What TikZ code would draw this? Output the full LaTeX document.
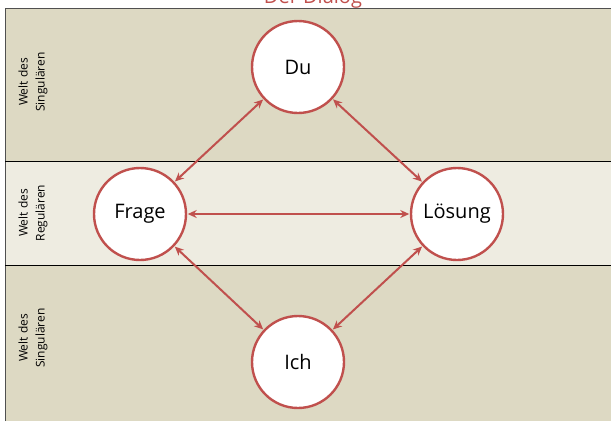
\documentclass[tikz,border=0pt]{standalone}
\usepackage{fontspec}
\setmainfont{Open Sans}
\usetikzlibrary{arrows.meta}
\definecolor{bandDark}{RGB}{221,217,195}
\definecolor{bandLight}{RGB}{238,236,225}
\definecolor{accent}{RGB}{192,80,77}
\definecolor{edge}{RGB}{80,80,80}
\tikzset{
  state/.style={circle, draw=accent, line width=2.4pt, fill=white, minimum size=92pt, inner sep=0pt, font=\fontsize{20}{24}\selectfont},
  link/.style={draw=accent, line width=2pt, {Stealth[length=9pt,width=8pt]}-{Stealth[length=9pt,width=8pt]}, shorten <=0.5pt, shorten >=0.5pt},
  worldlabel/.style={rotate=90, align=center, font=\fontsize{12}{17}\selectfont},
  sep/.style={draw=black, line width=1pt}
}
\begin{document}
\begin{tikzpicture}[x=1pt,y=-1pt]
\useasboundingbox (0,0) rectangle (611,421);
\fill[white] (0,0) rectangle (611,421);
% bands
\fill[bandDark] (5,8) rectangle (611,161);
\fill[bandLight] (5,161) rectangle (611,265);
\fill[bandDark] (5,265) rectangle (611,421);
\draw[edge, line width=1.5pt] (5.5,421) -- (5.5,8.5) -- (611,8.5);
\draw[sep] (5,161) -- (611,161);
\draw[sep] (5,265) -- (611,265);
% title
\node[text=accent, font=\fontsize{20}{24}\selectfont, anchor=base] (title) at (313,3) {Der Dialog};
% labels
\node[worldlabel] (l1) at (33,82) {Welt des\\Singulären};
\node[worldlabel] (l2) at (33,213) {Welt des\\Regulären};
\node[worldlabel] (l3) at (33,338) {Welt des\\Singulären};
% states
\node[state] (du) at (298,67) {Du};
\node[state] (frage) at (140,214) {Frage};
\node[state] (loesung) at (457,214) {Lösung};
\node[state] (ich) at (298,362) {Ich};
% links
\draw[link] (frage) -- (du);
\draw[link] (du) -- (loesung);
\draw[link] (frage) -- (loesung);
\draw[link] (frage) -- (ich);
\draw[link] (ich) -- (loesung);
\end{tikzpicture}
\end{document}
